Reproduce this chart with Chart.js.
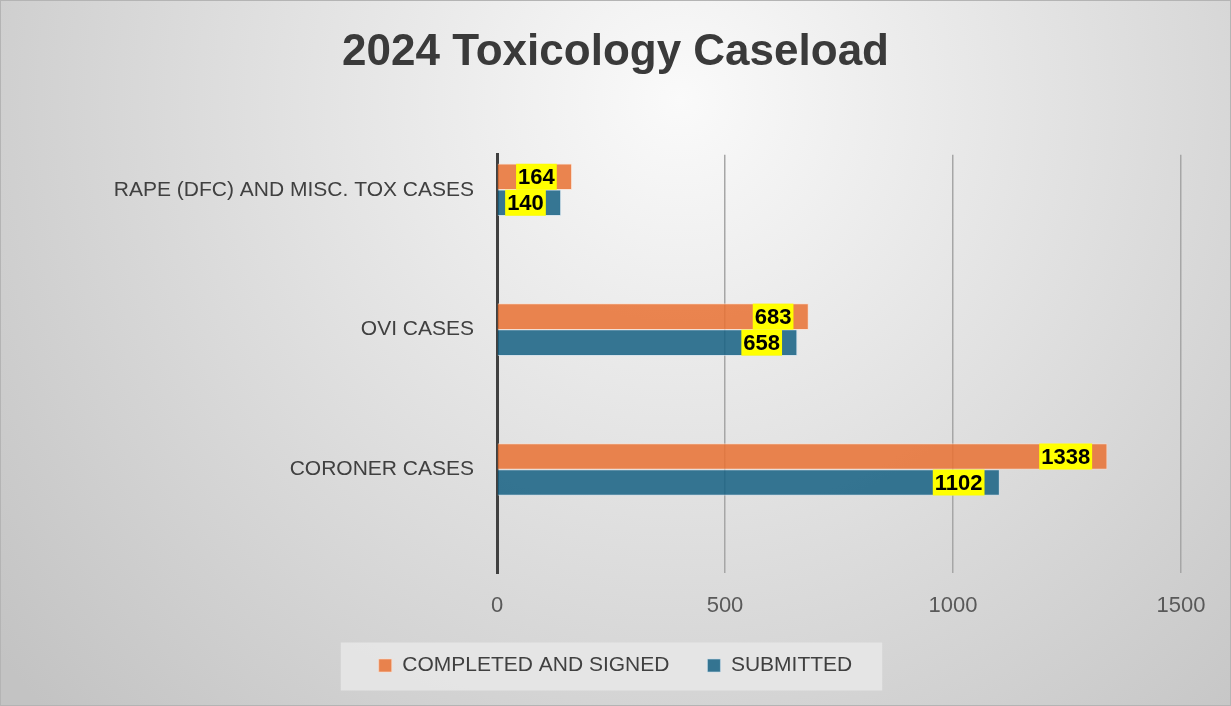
<!DOCTYPE html>
<html>
<head>
<meta charset="utf-8">
<script src="https://cdn.jsdelivr.net/npm/chart.js@4.4.1/dist/chart.umd.min.js"></script>
<style>
  body { margin: 0; background: #fff; }
  canvas { display: block; }
</style>
</head>
<body>
<canvas id="myBarChart" width="1231" height="706"></canvas>
<script>
const categories = [
  'RAPE (DFC) AND MISC. TOX CASES',
  'OVI CASES',
  'CORONER CASES'
];
const completedSigned = [164, 683, 1338];
const submitted = [140, 658, 1102];
const xTicks = [0, 500, 1000, 1500];

const FONT = "'Liberation Sans', Arial, sans-serif";

// gray radial backdrop + the legend's light panel
const backdrop = {
  id: 'backdrop',
  beforeDraw(chart) {
    const ctx = chart.ctx;
    const w = chart.width, h = chart.height;
    ctx.save();
    const g = ctx.createRadialGradient(680, 100, 0, 680, 100, 880);
    g.addColorStop(0, '#fafafa');
    g.addColorStop(1, '#c3c3c3');
    ctx.fillStyle = g;
    ctx.fillRect(0, 0, w, h);
    ctx.strokeStyle = '#b4b4b4';
    ctx.lineWidth = 1;
    ctx.strokeRect(0.5, 0.5, w - 1, h - 1);

    const boxes = chart.legend && chart.legend.legendHitBoxes;
    if (boxes && boxes.length) {
      const first = boxes[0], last = boxes[boxes.length - 1];
      const cy = first.top + first.height / 2;
      ctx.fillStyle = 'rgba(232,232,232,0.85)';
      ctx.fillRect(first.left - 38, cy - 23, last.left + last.width - first.left + 68, 48);
    }
    ctx.restore();
  }
};

// yellow value tags near the end of each bar
const valueTags = {
  id: 'valueTags',
  afterDatasetsDraw(chart) {
    const ctx = chart.ctx;
    ctx.save();
    ctx.font = "bold 22px 'Liberation Sans', Arial, sans-serif";
    ctx.textBaseline = 'middle';
    ctx.textAlign = 'right';
    chart.data.datasets.forEach((ds, di) => {
      chart.getDatasetMeta(di).data.forEach((bar, i) => {
        const txt = String(ds.data[i].x);
        const tw = ctx.measureText(txt).width;
        const right = bar.x - 16;
        ctx.fillStyle = '#ffff00';
        ctx.fillRect(right - tw - 3, bar.y - 13, tw + 4, 26);
        ctx.fillStyle = '#000';
        ctx.fillText(txt, right - 1, bar.y + 1);
      });
    });
    ctx.restore();
  }
};

const barData = {
  datasets: [
    {
      label: 'COMPLETED AND SIGNED',
      data: completedSigned.map((v, i) => ({ x: v, y: i })),
      backgroundColor: 'rgba(233, 113, 50, 0.85)',
      borderColor: 'rgba(255, 220, 200, 0.6)',
      borderWidth: 1
    },
    {
      label: 'SUBMITTED',
      data: submitted.map((v, i) => ({ x: v, y: i })),
      backgroundColor: 'rgba(21, 96, 130, 0.85)',
      borderColor: 'rgba(200, 220, 235, 0.6)',
      borderWidth: 1
    }
  ]
};

const barConfig = {
  type: 'bar',
  data: barData,
  plugins: [backdrop, valueTags],
  options: {
    indexAxis: 'y',
    responsive: false,
    animation: false,
    layout: {
      padding: { top: 0, left: 0, right: 0, bottom: 20 }
    },
    datasets: {
      bar: { barThickness: 26 }
    },
    scales: {
      y: {
        type: 'linear',
        reverse: true,
        offset: false,
        grace: 0,
        min: -0.25,
        max: 2.74,
        afterFit(scale) { scale.width = 497; },
        afterBuildTicks(scale) {
          scale.ticks = categories.map((c, i) => ({ value: i }));
        },
        ticks: {
          callback: (v) => categories[v] || '',
          color: '#404040',
          font: { family: FONT, size: 21 },
          padding: 23
        },
        grid: { display: false, drawTicks: false },
        border: { display: true, color: '#404040', width: 3 }
      },
      // empty right-hand spacer so the plot ends at 1500 with room for its label
      spacer: {
        type: 'linear',
        position: 'right',
        afterFit(scale) { scale.width = 50; },
        ticks: { display: false },
        grid: { display: false, drawTicks: false },
        border: { display: false }
      },
      x: {
        min: 0,
        max: 1500,
        afterFit(scale) { scale.height = 44; },
        afterBuildTicks(scale) {
          scale.ticks = xTicks.map(v => ({ value: v }));
        },
        ticks: {
          callback: (v) => String(v),
          color: '#595959',
          font: { family: FONT, size: 22 },
          padding: 20
        },
        grid: { color: '#a6a6a6', lineWidth: 1.5, drawTicks: false },
        border: { display: false }
      }
    },
    plugins: {
      title: {
        display: true,
        text: '2024 Toxicology Caseload',
        color: '#3a3a3a',
        font: { family: FONT, size: 44, weight: 'bold' },
        padding: { top: 26, bottom: 76 }
      },
      legend: {
        position: 'bottom',
        labels: {
          color: '#404040',
          font: { family: FONT, size: 21 },
          boxWidth: 13,
          boxHeight: 13,
          padding: 38
        }
      },
      tooltip: { enabled: false }
    }
  }
};

const myBarChart = new Chart(
  document.getElementById('myBarChart'),
  barConfig
);
</script>
</body>
</html>
